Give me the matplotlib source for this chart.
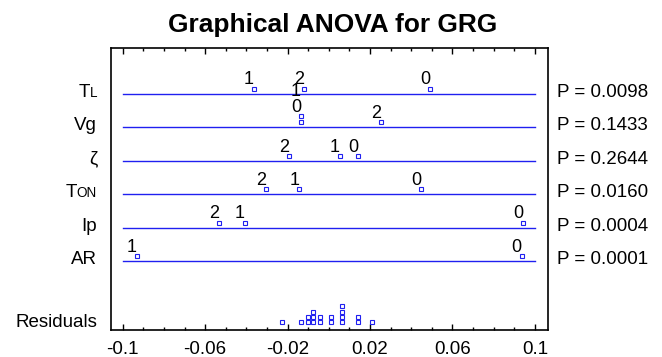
import matplotlib
matplotlib.use("Agg")
import matplotlib.pyplot as plt
import matplotlib.transforms as mtransforms
from matplotlib.ticker import MultipleLocator, FixedLocator

plt.rcParams['font.family'] = ['Liberation Sans', 'DejaVu Sans']

# ---- data ----
factor_main = ["T", "Vg", "ζ", "T", "Ip", "AR"]
factor_small = ["L", "", "", "ON", "", ""]
p_values = ["0.0098", "0.1433", "0.2644", "0.0160", "0.0004", "0.0001"]
level_labels = [["0", "1", "2"], ["0", "1", "2"], ["0", "1", "2"],
                ["0", "1", "2"], ["0", "1", "2"], ["0", "1"]]
effects_TL = [0.049, -0.0363, -0.0122]
effects_Vg = [-0.0135, -0.0135, 0.0255]
effects_zeta = [0.0143, 0.0054, -0.0192]
effects_TON = [0.0449, -0.0143, -0.0303]
effects_Ip = [0.0943, -0.0407, -0.0533]
effects_AR = [0.0935, -0.0932]
effects = [effects_TL, effects_Vg, effects_zeta, effects_TON, effects_Ip, effects_AR]
residuals = [-0.0226, -0.0135, -0.0101, -0.0101, -0.0075, -0.0075, -0.0075,
             -0.0044, -0.0044, 0.0011, 0.0011, 0.0064, 0.0064, 0.0064, 0.0064,
             0.014, 0.014, 0.0211]
xticks_labeled = [-0.1, -0.06, -0.02, 0.02, 0.06, 0.1]
tick_text = ["-0.1", "-0.06", "-0.02", "0.02", "0.06", "0.1"]

# ---- layout ----
W, H = 662, 357
fig = plt.figure(figsize=(W / 100, H / 100), dpi=100)
ax = fig.add_axes([111 / W, 1 - 330 / H, (547.7 - 111) / W, (330 - 48) / H])

ROW_PX = 33.5
px = 1.0 / ROW_PX            # one pixel in row units
ax.set_xlim(-0.1057, 0.1062)
ax.set_ylim((330 - 93.5) / ROW_PX, (48 - 93.5) / ROW_PX)

blue = "#2020f0"
fs = 13.5
mk = dict(marker="s", ms=2.6, mfc="white", mec=blue, mew=0.8, ls="none", zorder=3)

for i, (effs, labs) in enumerate(zip(effects, level_labels)):
    ax.plot([-0.1, 0.1], [i, i], color=blue, lw=1.0, zorder=1)
    # group equal effects to stack
    groups = {}
    for e, l in zip(effs, labs):
        groups.setdefault(e, []).append(l)
    for e, ls in groups.items():
        for k, l in enumerate(ls):
            y = i - (5 + 5.7 * k) * px
            ax.plot([e], [y], **mk)
        ytop = i - (5 + 5.7 * (len(ls) - 1)) * px
        for k, l in enumerate(ls):
            ax.annotate(l, xy=(e, ytop), xytext=(-5, 8.5 + 16.6 * k),
                        textcoords="offset pixels", ha="center", va="center",
                        fontsize=13, color="black", zorder=4)

# residuals stacked
res_row = (322.3 - 93.5) / ROW_PX
counts = {}
for r in residuals:
    k = counts.get(r, 0)
    counts[r] = k + 1
    ax.plot([r], [res_row - 5.3 * k * px], **mk)

# row labels
blend = mtransforms.blended_transform_factory(fig.transFigure, ax.transData)
fig.canvas.draw()
renderer = fig.canvas.get_renderer()
for i, (m, s) in enumerate(zip(factor_main, factor_small)):
    yb = i + 3.2 * px
    if s:
        t = ax.text(97 / W, yb, s, transform=blend, ha="right", va="baseline",
                    fontsize=fs * 0.72)
        bb = t.get_window_extent(renderer)
        x0 = bb.x0 / fig.bbox.width
        ax.text(x0, yb, m, transform=blend, ha="right", va="baseline", fontsize=fs)
    else:
        ax.text(97 / W, yb, m, transform=blend, ha="right", va="baseline", fontsize=fs)
    ax.text(556.7 / W, yb, "P = " + p_values[i], transform=blend, ha="left",
            va="baseline", fontsize=fs)
ax.text(97 / W, res_row + 5 * px, "Residuals", transform=blend, ha="right",
        va="baseline", fontsize=fs)

# axes styling
ax.set_yticks([])
ax.xaxis.set_major_locator(FixedLocator(xticks_labeled))
ax.set_xticklabels(tick_text, fontsize=fs)
ax.xaxis.set_minor_locator(MultipleLocator(0.01))
ax.tick_params(axis="x", which="major", direction="in", length=4, width=1,
               top=True, bottom=True, pad=8)
ax.tick_params(axis="x", which="minor", direction="in", length=2.5, width=1,
               top=True, bottom=True)
for sp in ax.spines.values():
    sp.set_linewidth(1.2)
    sp.set_color("black")

fig.text(333 / W, 1 - 25 / H, "Graphical ANOVA for GRG", ha="center",
         va="center", fontsize=18.9, fontweight="bold")

fig.savefig("out.png", dpi=100)
